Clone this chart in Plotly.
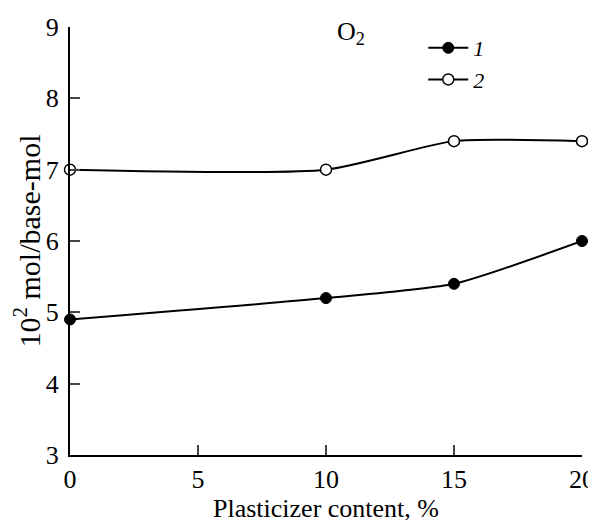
import plotly.graph_objects as go

x_vals = [0, 10, 15, 20]
series1 = [4.9, 5.2, 5.4, 6.0]
series2 = [7.0, 7.0, 7.4, 7.4]
x_ticks = [0, 5, 10, 15, 20]
y_ticks = [3, 4, 5, 6, 7, 8, 9]

FONT = "Liberation Serif"

fig = go.Figure()
fig.add_trace(go.Scatter(
    x=x_vals, y=series1, name="<i>1</i>", mode="lines+markers",
    line=dict(color="black", width=2, shape="spline", smoothing=0.6),
    marker=dict(symbol="circle", size=11, color="black", line=dict(color="black", width=1)),
    cliponaxis=False,
))
fig.add_trace(go.Scatter(
    x=x_vals, y=series2, name="<i>2</i>", mode="lines+markers",
    line=dict(color="black", width=2, shape="spline", smoothing=0.6),
    marker=dict(symbol="circle", size=11, color="white", line=dict(color="black", width=1.5)),
    cliponaxis=False,
))

fig.update_layout(
    width=596, height=520,
    margin=dict(l=62, r=22, t=19, b=73),
    paper_bgcolor="white", plot_bgcolor="white",
    font=dict(family=FONT, size=26, color="black"),
    showlegend=True,
    legend=dict(x=0.69, y=1.0, xanchor="left", yanchor="top",
                bgcolor="rgba(0,0,0,0)", font=dict(size=22, family=FONT),
                tracegroupgap=0, itemwidth=40),
    xaxis=dict(range=[0, 20], tickvals=x_ticks, ticks="inside", ticklen=10,
               tickwidth=1.5, showline=True, linecolor="black", linewidth=2,
               showgrid=False, zeroline=False, mirror=False, automargin=False,
               tickfont=dict(size=26),
               title=dict(text="Plasticizer content, %", font=dict(size=26), standoff=6)),
    yaxis=dict(range=[3, 9], tickvals=y_ticks, ticks="inside", ticklen=10,
               tickwidth=1.5, showline=True, linecolor="black", linewidth=2,
               showgrid=False, zeroline=False, mirror=False, automargin=False,
               tickfont=dict(size=26), ticklabelstandoff=4,
               title=dict(text="10<sup>2</sup> mol/base-mol", font=dict(size=30), standoff=10)),
    annotations=[dict(text="O<sub>2</sub>", x=0.548, y=0.986, xref="paper", yref="paper",
                      xanchor="center", yanchor="middle", showarrow=False,
                      font=dict(size=26, family=FONT))],
)

fig.write_html("out.html")
